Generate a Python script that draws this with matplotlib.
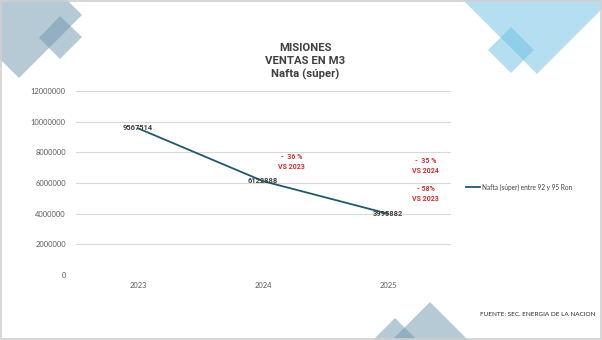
import matplotlib
matplotlib.use("Agg")
import matplotlib.pyplot as plt
from matplotlib.patches import Polygon, Rectangle
from matplotlib.ticker import FuncFormatter

years = ["2023", "2024", "2025"]
values = [9567514, 6122888, 3995882]
series_name = "Nafta (súper) entre 92 y 95 Ron"
y_ticks = [0, 2000000, 4000000, 6000000, 8000000, 10000000, 12000000]
notes = [("-  36 %\nVS 2023", 1.23, 7350000),
         ("-  35 %\nVS 2024", 2.3, 7100000),
         ("- 58%\nVS 2023", 2.3, 5300000)]

W, H = 602, 340
plt.rcParams['font.family'] = ['Lato', 'DejaVu Sans']
fig = plt.figure(figsize=(W / 100, H / 100), dpi=100)
BOLD = ['Roboto', 'DejaVu Sans']

# decorative background layer (pixel coordinates)
bg = fig.add_axes([0, 0, 1, 1], zorder=0)
bg.set_xlim(0, W)
bg.set_ylim(H, 0)
bg.axis("off")
c1 = "#6f97ae"
bg.add_patch(Polygon([(82, 15), (19, 78), (-44, 15), (19, -48)], closed=True, fc=c1, alpha=0.5, lw=0))
bg.add_patch(Polygon([(60, 16), (82, 37), (60, 59), (39, 38)], closed=True, fc=c1, alpha=0.5, lw=0))
c2 = "#6cc0e3"
bg.add_patch(Polygon([(463, 0), (537, 74), (611, 0)], closed=True, fc=c2, alpha=0.5, lw=0))
bg.add_patch(Polygon([(511, 27), (534, 50), (511, 73), (488, 50)], closed=True, fc=c2, alpha=0.5, lw=0))
bg.add_patch(Polygon([(430, 302), (468, 340), (392, 340)], closed=True, fc=c1, alpha=0.5, lw=0))
bg.add_patch(Polygon([(395, 318), (417, 340), (373, 340)], closed=True, fc=c1, alpha=0.5, lw=0))
bg.add_patch(Rectangle((0.5, 0.5), W - 2, H - 2, fill=False, ec="#d0d0d0", lw=1.2))

# main chart
L, R, T, B = 75.5, 450.5, 91, 275
ax = fig.add_axes([L / W, (H - B) / H, (R - L) / W, (B - T) / H], zorder=1)
ax.patch.set_alpha(0)
x = list(range(len(years)))
ax.plot(x, values, color="#1f5a6b", lw=1.3, label=series_name, zorder=3)
for xi, v in zip(x, values):
    ax.text(xi, v, str(v), ha="center", va="center", fontsize=5.4, color="#404040",
            fontweight="bold", family=BOLD, zorder=4)
for txt, xx, yy in notes:
    ax.text(xx, yy, txt, ha="center", va="center", fontsize=5.0, color="#d03035",
            fontweight="bold", family=BOLD, linespacing=1.35)
ax.set_xlim(-0.5, 2.5)
ax.set_ylim(0, 12000000)
ax.set_xticks(x)
ax.set_xticklabels(years)
ax.set_yticks(y_ticks)
ax.yaxis.set_major_formatter(FuncFormatter(lambda v, p: f"{int(v)}"))
ax.tick_params(length=0, labelsize=5.4, labelcolor="#595959", pad=7)
ax.tick_params(axis="x", pad=5)
for s in ax.spines.values():
    s.set_visible(False)
ax.grid(axis="y", color="#d9d9d9", lw=0.8)
ax.set_axisbelow(True)
ax.legend(loc="center left", bbox_to_anchor=(460 / W, (H - 187) / H),
          bbox_transform=fig.transFigure, frameon=False, fontsize=4.7,
          handlelength=2.2, handletextpad=0.2, labelcolor="#404040")

fig.text(305 / W, (H - 61.5) / H, "MISIONES\nVENTAS EN M3\nNafta (súper)", ha="center", va="center",
         fontsize=8.2, fontweight="bold", family=BOLD, color="#404040", linespacing=1.38)
fig.text(480 / W, (H - 315) / H, "FUENTE: SEC. ENERGIA DE LA NACION", ha="left", va="center",
         fontsize=4.6, color="#262626")

fig.savefig("out.png", dpi=100)
